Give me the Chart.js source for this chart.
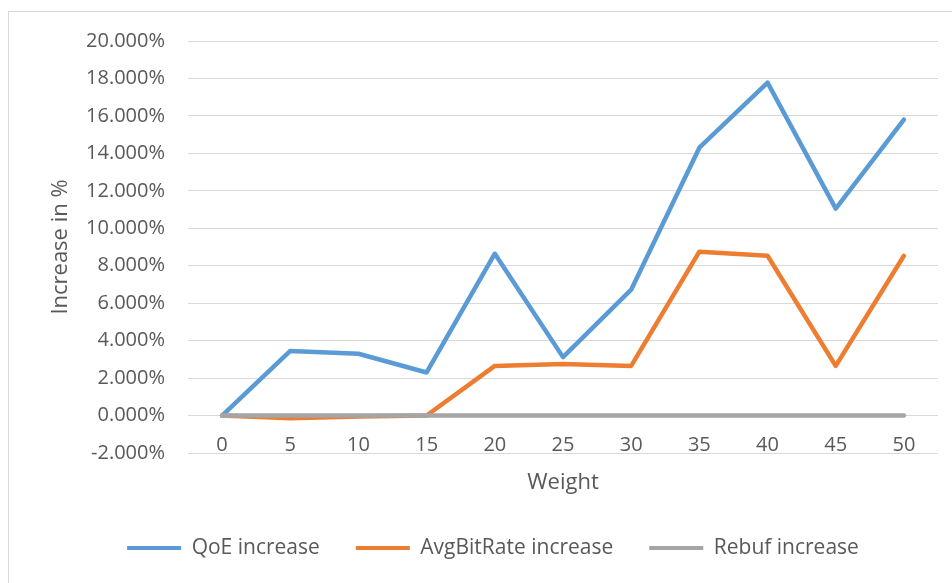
<!DOCTYPE html>
<html>
<head>
<meta charset="utf-8">
<script src="https://cdn.jsdelivr.net/npm/chart.js@4.4.1/dist/chart.umd.min.js"></script>
<style>
  html, body { margin: 0; padding: 0; background: #ffffff; }
  #frame { position: absolute; left: 8px; top: 11px; width: 1000px; height: 1000px; border: 1px solid #d9d9d9; box-sizing: border-box; }
  #c { position: absolute; left: 0; top: 0; }
</style>
</head>
<body>
<div id="frame"></div>
<canvas id="c" width="952" height="583"></canvas>
<script>
const categories = ["0", "5", "10", "15", "20", "25", "30", "35", "40", "45", "50"];
const qoeIncrease = [0, 3.45, 3.3, 2.3, 8.64, 3.12, 6.72, 14.3, 17.78, 11.05, 15.8];
const avgBitRateIncrease = [0, -0.15, -0.05, 0, 2.65, 2.75, 2.65, 8.75, 8.53, 2.65, 8.53];
const rebufIncrease = [0, 0, 0, 0, 0, 0, 0, 0, 0, 0, 0];
const yMin = -2, yMax = 20, yStep = 2;

const textColor = '#595959';
const fontFamily = '"Open Sans", Lato, sans-serif';

new Chart(document.getElementById('c'), {
  type: 'line',
  data: {
    labels: categories,
    datasets: [
      { label: 'QoE increase', data: qoeIncrease, borderColor: '#5B9BD5', backgroundColor: '#5B9BD5', order: 3 },
      { label: 'AvgBitRate increase', data: avgBitRateIncrease, borderColor: '#ED7D31', backgroundColor: '#ED7D31', order: 2 },
      { label: 'Rebuf increase', data: rebufIncrease, borderColor: '#A5A5A5', backgroundColor: '#A5A5A5', order: 1 }
    ]
  },
  options: {
    responsive: false,
    animation: false,
    layout: { padding: { top: 41, left: 48, right: 14, bottom: 14.5 } },
    elements: {
      point: { radius: 0, hoverRadius: 0 },
      line: { borderWidth: 4.5, tension: 0, borderCapStyle: 'round', borderJoinStyle: 'round', fill: false }
    },
    scales: {
      x: {
        position: { y: yMin },
        offset: true,
        grid: { display: false, drawTicks: false },
        border: { display: false },
        ticks: { color: textColor, font: { family: fontFamily, size: 20 }, padding: -20, maxRotation: 0, autoSkip: false },
        title: { display: true, text: 'Weight', color: textColor, font: { family: fontFamily, size: 22 }, padding: { top: 0, bottom: 5.3 } },
        afterFit: (s) => { s.height = 48.5; }
      },
      y: {
        min: yMin, max: yMax,
        grid: { color: '#d9d9d9', lineWidth: 1, drawTicks: false },
        border: { display: false },
        ticks: {
          stepSize: yStep,
          color: textColor,
          font: { family: fontFamily, size: 20 },
          padding: 23,
          callback: (v) => v.toFixed(3) + '%'
        },
        title: { display: true, text: 'Increase in %', color: textColor, font: { family: fontFamily, size: 22 }, padding: { top: 0, bottom: 0 } },
        afterFit: (s) => { s.width = 140; }
      }
    },
    plugins: {
      tooltip: { enabled: false },
      legend: {
        position: 'bottom',
        title: { display: true, text: ' ', font: { size: 12, lineHeight: 1.2 }, padding: { top: 34.1, bottom: 0 } },
        labels: {
          boxWidth: 54,
          boxHeight: 4,
          padding: 36,
          color: textColor,
          font: { family: fontFamily, size: 21 },
          sort: (a, b) => a.datasetIndex - b.datasetIndex,
          generateLabels: (chart) => Chart.defaults.plugins.legend.labels.generateLabels(chart).map(l => Object.assign(l, { lineWidth: 0 }))
        }
      }
    }
  }
});
</script>
</body>
</html>
